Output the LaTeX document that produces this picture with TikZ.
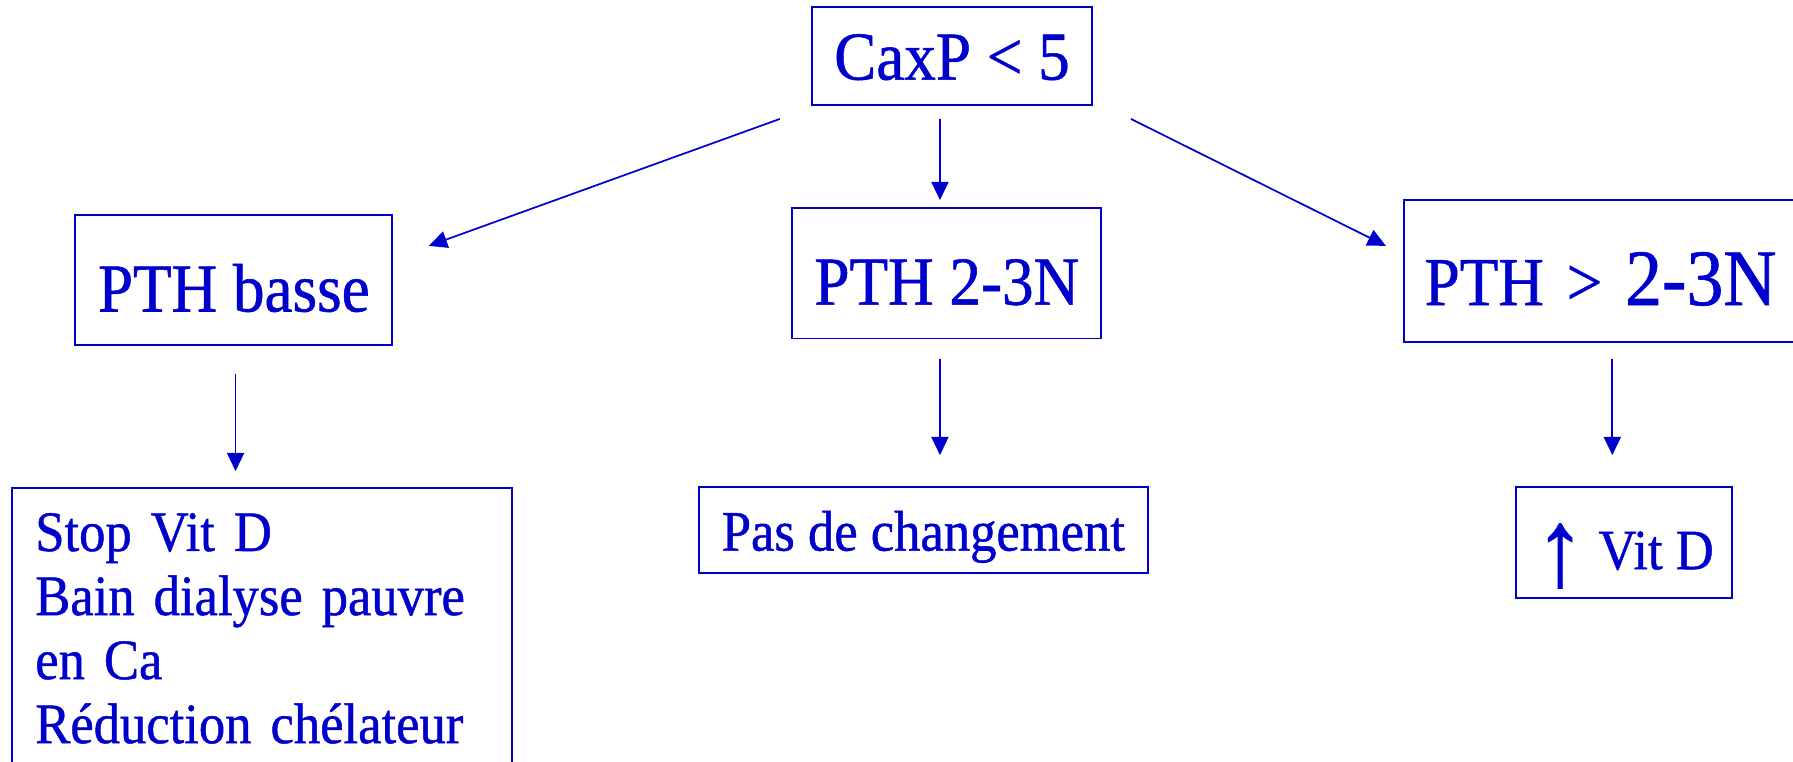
\documentclass[tikz,border=0pt]{standalone}
\usepackage{fontspec}
\setmainfont{Liberation Serif}[FakeStretch=0.92,FakeBold=0.8]
\usetikzlibrary{arrows.meta}
\definecolor{dblue}{RGB}{0,0,204}
\begin{document}
\begin{tikzpicture}[x=1pt,y=-1pt,
  box/.style={draw=dblue, line width=1.7pt, text=dblue, inner xsep=0pt, inner ysep=0pt, align=center},
  conn/.style={draw=dblue, line width=1.5pt, -{Triangle[length=16pt,width=15pt]}},
  big/.style={font=\fontsize{60}{72}\selectfont},
  small/.style={font=\fontsize{50}{56}\selectfont}]
\useasboundingbox (0,0) rectangle (1568,666);

\node[box, big, minimum width=245pt, text height=63.6pt, text depth=22.4pt] (caxp) at (832.5,49) {CaxP < 5};
\node[box, big, minimum width=277pt, text height=84.4pt, text depth=29.6pt] (basse) at (204.5,245) {PTH basse};
\node[box, big, minimum width=270pt, text height=84.4pt, text depth=29.6pt] (norm) at (828,239) {PTH 2-3N};
\node[box, big, anchor=west, inner xsep=18pt, text width=400pt, align=left, text height=91.8pt, text depth=32.2pt] (haute) at (1227,237) {PTH > {\fontsize{70}{84}\selectfont 2-3N}};

\node[box, small, anchor=north west, inner xsep=20pt, text width=397pt, align=left, text height=55pt, text depth=220pt] (stop) at (10,426) {Stop Vit D\\Bain dialyse pauvre\\en Ca\\Réduction chélateur};
\node[box, small, minimum width=393pt, text height=55.5pt, text depth=19.5pt] (pas) at (807.5,463.5) {Pas de changement};
\node[box, small, minimum width=189pt, text height=71.8pt, text depth=25.2pt] (vit) at (1420.5,474.5) {\raisebox{-14pt}{\fontsize{96}{96}\selectfont ↑} Vit D};

\coordinate (caxpL) at (682,104);
\coordinate (basseT) at (375,215);
\coordinate (caxpM) at (822,104);
\coordinate (normT) at (822,175);
\coordinate (caxpR) at (989,104);
\coordinate (hauteT) at (1212,215);
\coordinate (basseB) at (206,327);
\coordinate (stopT) at (206,412);
\coordinate (normB) at (822,314);
\coordinate (pasT) at (822,398);
\coordinate (hauteB) at (1410,314);
\coordinate (vitT) at (1410,398);

\draw[conn] (caxpL) -- (basseT);
\draw[conn] (caxpM) -- (normT);
\draw[conn] (caxpR) -- (hauteT);
\draw[conn] (basseB) -- (stopT);
\draw[conn] (normB) -- (pasT);
\draw[conn] (hauteB) -- (vitT);
\end{tikzpicture}
\end{document}
